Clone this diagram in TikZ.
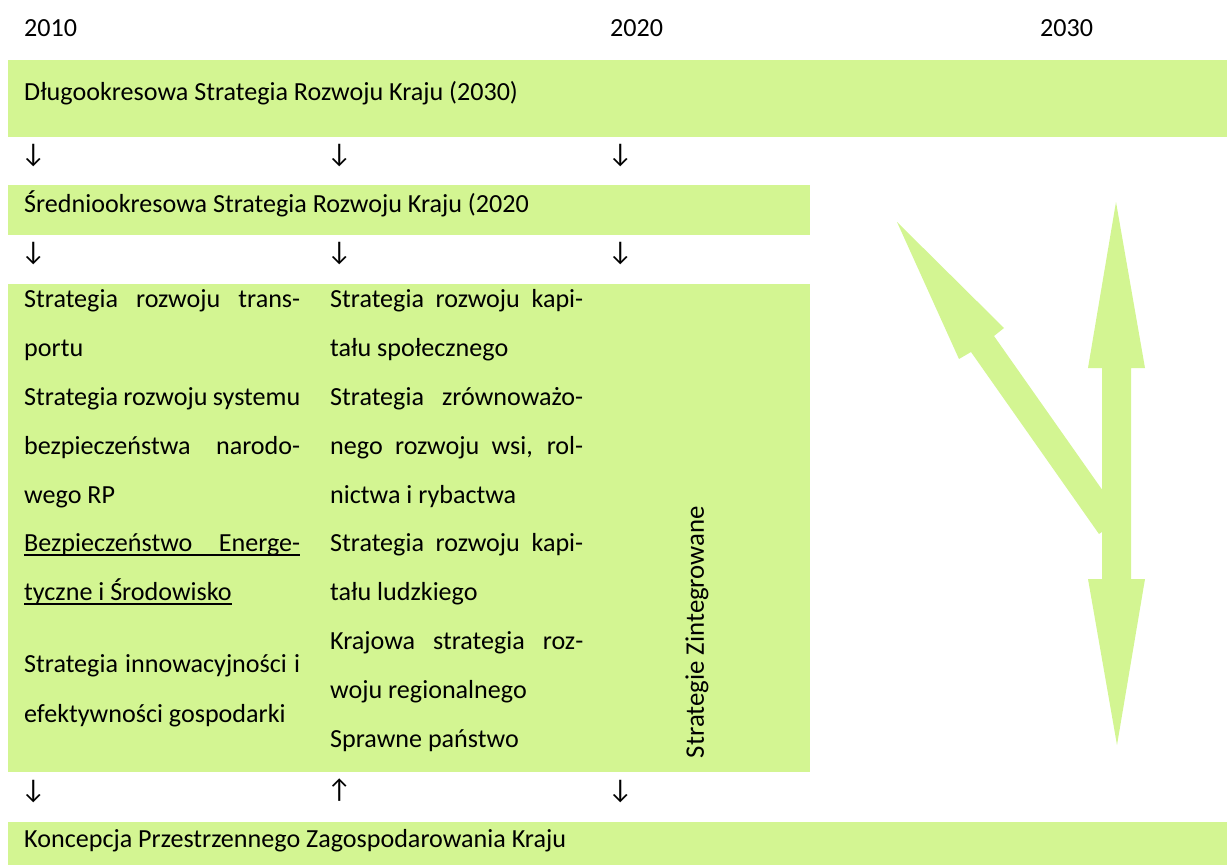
\documentclass[tikz,border=0pt]{standalone}
\usepackage{fontspec}
\setmainfont{Carlito}
\definecolor{bandgreen}{RGB}{211,245,146}
% underline drawn at a fixed depth below the baseline
\newcommand{\ulbox}[1]{\setbox0\hbox{#1}\rlap{\rule[-4.5pt]{\wd0}{1.3pt}}\box0}
\newcommand{\jcolA}[1]{\makebox[276pt][s]{#1}}
\newcommand{\jcolB}[1]{\makebox[253pt][s]{#1}}
\begin{document}
\begin{tikzpicture}[x=1pt,y=-1pt,
  txt/.style={font=\fontsize{26.1}{30}\selectfont, inner sep=0pt, anchor=base west},
  band/.style={fill=bandgreen, draw=none, inner sep=0pt, anchor=north west},
  glyph/.style={font=\fontsize{27}{30}\selectfont, inner sep=0pt, anchor=base west},
  bigarrow/.style={fill=bandgreen, draw=none}]
\useasboundingbox (0,0) rectangle (1227,865);

% coloured bands
\node[band, minimum width=1219pt, minimum height=77pt] (dlugo) at (8,60) {};
\node[band, minimum width=802pt, minimum height=50pt] (srednio) at (8,185) {};
\node[band, minimum width=802pt, minimum height=488pt] (sektor) at (8,284) {};
\node[band, minimum width=1219pt, minimum height=43pt] (kpzk) at (8,822) {};

% years
\node[txt] (y2010) at (24,36) {2010};
\node[txt] (y2020) at (610,36) {2020};
\node[txt] (y2030) at (1040,36) {2030};

% band titles
\node[txt] (tdlugo) at (24,100) {Długookresowa Strategia Rozwoju Kraju (2030)};
\node[txt] (tsrednio) at (24,212) {Średniookresowa Strategia Rozwoju Kraju (2020};
\node[txt] (tkpzk) at (24,847) {Koncepcja Przestrzennego Zagospodarowania Kraju};

% arrow glyphs between the bands
\node[glyph] (a1) at (21,162) {↓};
\node[glyph] (a2) at (327,162) {↓};
\node[glyph] (a3) at (608,162) {↓};
\node[glyph] (b1) at (21,260) {↓};
\node[glyph] (b2) at (327,260) {↓};
\node[glyph] (b3) at (608,260) {↓};
\node[glyph] (c1) at (21,798) {↓};
\node[glyph] (c2) at (327,798) {↑};
\node[glyph] (c3) at (608,798) {↓};

% first column of sector strategies
\node[txt] (l1) at (24,307) {\jcolA{Strategia rozwoju trans-}};
\node[txt] (l2) at (24,356) {portu};
\node[txt] (l3) at (24,405) {\jcolA{Strategia rozwoju systemu}};
\node[txt] (l4) at (24,454) {\jcolA{bezpieczeństwa narodo-}};
\node[txt] (l5) at (24,503) {wego RP};
\node[txt] (l6) at (24,551) {\ulbox{\jcolA{Bezpieczeństwo Energe-}}};
\node[txt] (l7) at (24,600) {\ulbox{tyczne i Środowisko}};
\node[txt] (l8) at (24,672) {\jcolA{Strategia innowacyjności i}};
\node[txt] (l9) at (24,722) {efektywności gospodarki};

% second column of sector strategies
\node[txt] (r1) at (330,307) {\jcolB{Strategia rozwoju kapi-}};
\node[txt] (r2) at (330,356) {tału społecznego};
\node[txt] (r3) at (330,405) {\jcolB{Strategia zrównoważo-}};
\node[txt] (r4) at (330,454) {\jcolB{nego rozwoju wsi, rol-}};
\node[txt] (r5) at (330,503) {nictwa i rybactwa};
\node[txt] (r6) at (330,551) {\jcolB{Strategia rozwoju kapi-}};
\node[txt] (r7) at (330,600) {tału ludzkiego};
\node[txt] (r8) at (330,649) {\jcolB{Krajowa strategia roz-}};
\node[txt] (r9) at (330,698) {woju regionalnego};
\node[txt] (r10) at (330,747) {Sprawne państwo};

% vertical label
\node[font=\fontsize{26.8}{30}\selectfont, inner sep=0pt, rotate=90] (zint) at (697,632) {Strategie Zintegrowane};

% block arrows on the right
\fill[bigarrow] (897,222) -- (1004,328) -- (994,336) -- (1122,518)
  -- (1099,534) -- (971,352) -- (959,359) -- cycle;
\fill[bigarrow] (1116,202) -- (1145,368) -- (1131,368) -- (1131,579)
  -- (1145,579) -- (1117,745) -- (1088,579) -- (1102,579)
  -- (1102,368) -- (1088,368) -- cycle;
\end{tikzpicture}
\end{document}
